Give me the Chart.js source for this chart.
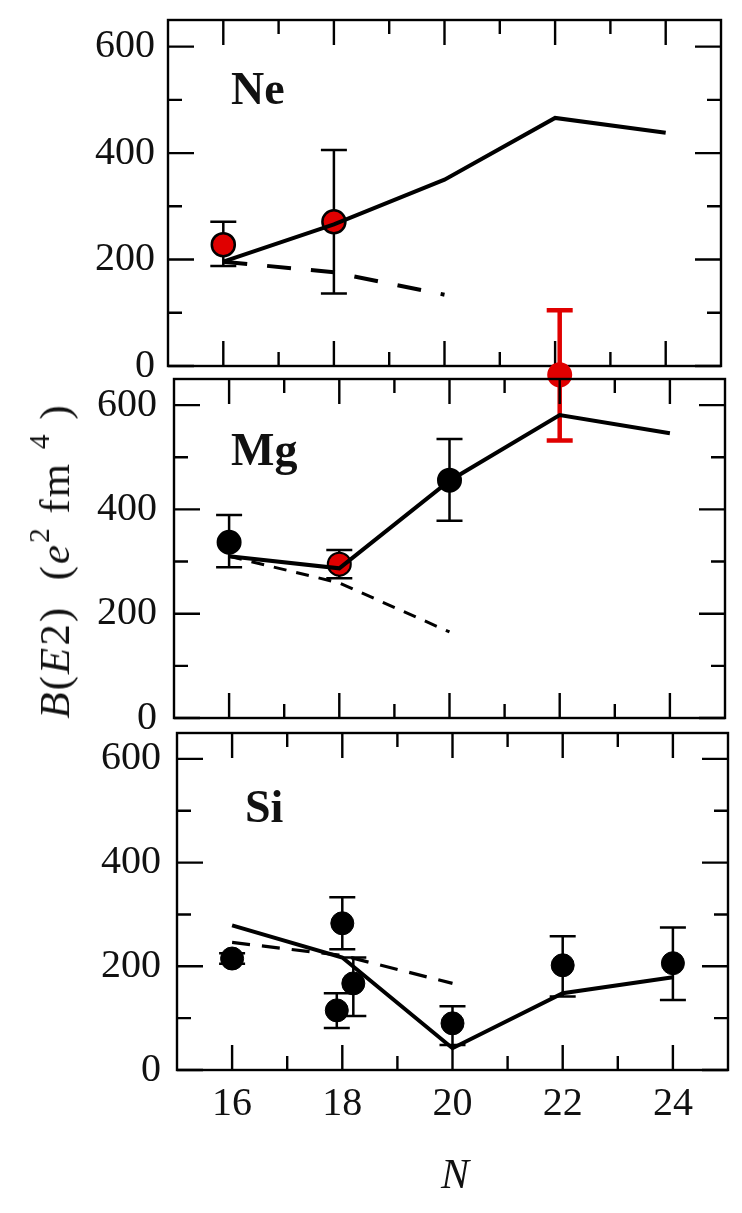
<!DOCTYPE html>
<html>
<head>
<meta charset="utf-8">
<script src="https://cdn.jsdelivr.net/npm/chart.js@4.4.1/dist/chart.umd.min.js"></script>
<style>
  body { margin: 0; background: #fff; width: 742px; height: 1213px; position: relative; overflow: hidden;
         font-family: "Liberation Serif", "DejaVu Serif", serif; color: #111; }
  canvas { position: absolute; left: 0; top: 0; }
  .el { position: absolute; font-weight: bold; font-size: 46px; line-height: 46px; z-index: 5; }
  #ytitle { position: absolute; left: 57px; top: 561px; font-size: 43px; line-height: 43px; white-space: nowrap;
            letter-spacing: 2px; transform: translate(-50%, -50%) rotate(-90deg); z-index: 5; }
  #ytitle .s { position: relative; top: -0.7em; font-size: 0.68em; }
  #xtitle { position: absolute; left: 455px; top: 1153px; font-size: 42px; line-height: 42px; font-style: italic;
            transform: translateX(-50%); z-index: 5; }
</style>
</head>
<body>
<canvas id="ne" width="742" height="1213"></canvas>
<canvas id="mg" width="742" height="1213"></canvas>
<canvas id="si" width="742" height="1213"></canvas>
<div class="el" style="left:231px; top:66px;">Ne</div>
<div class="el" style="left:231px; top:427px;">Mg</div>
<div class="el" style="left:245px; top:784px;">Si</div>
<div id="ytitle"><i>B</i>(<i>E</i>2)&nbsp;&nbsp;(<i>e</i><span class="s">2</span>&nbsp;fm&nbsp;<span class="s">4</span>&nbsp;)</div>
<div id="xtitle">N</div>
<script>
// neutron number of the calculated curves
const nCalc = [16, 18, 20, 22, 24];
const nDash = [16, 18, 20];

// Ne
const neSolid = [196, 266, 350, 466, 438];
const neDashed = [196, 176, 134];
const neExpN = [16, 18];
const neExp = [228, 271];
const neLo = [188, 136];
const neHi = [271, 406];
const neRed = [true, true];

// Mg
const mgSolid = [310, 287, 455, 581, 546];
const mgDashed = [310, 259, 165];
const mgExpN = [16, 18, 20, 22];
const mgExp = [337, 295, 456, 658];
const mgLo = [289, 268, 378, 532];
const mgHi = [389, 322, 535, 782];
const mgRed = [false, true, false, true];

// Si
const siSolid = [279, 217, 42, 148, 179];
const siDashed = [246, 221, 167];
const siExpN = [16, 17.9, 18, 18.2, 20, 22, 24];
const siExp = [215, 115, 283, 167, 90, 202, 206];
const siLo = [205, 81, 233, 104, 48, 142, 135];
const siHi = [225, 148, 333, 217, 123, 258, 275];
const siRed = [false, false, false, false, false, false, false];

const xTicks = [16, 18, 20, 22, 24];
const xMinor = [17, 19, 21, 23];
const yTicks = [0, 200, 400, 600];
const yMinor = [100, 300, 500];

const RED = '#e00000';
Chart.defaults.font.family = '"Liberation Serif", "DejaVu Serif", serif';
Chart.defaults.color = '#111';

// vertical error bars, drawn under the points
const errBars = {
  id: 'errBars',
  beforeDatasetsDraw(chart, args, o) {
    const { ctx, scales: { x, y } } = chart;
    ctx.save();
    o.xs.forEach((n, i) => {
      const px = x.getPixelForValue(n);
      const lo = y.getPixelForValue(o.lo[i]);
      const hi = y.getPixelForValue(o.hi[i]);
      ctx.strokeStyle = o.redBar[i] ? RED : '#000';
      ctx.lineWidth = o.redBar[i] ? 4.5 : 2.5;
      ctx.beginPath();
      ctx.moveTo(px, lo); ctx.lineTo(px, hi);
      ctx.moveTo(px - 13, lo); ctx.lineTo(px + 13, lo);
      ctx.moveTo(px - 13, hi); ctx.lineTo(px + 13, hi);
      ctx.stroke();
    });
    ctx.restore();
  }
};

// box frame with inward ticks on all four sides
const frame = {
  id: 'frame',
  afterDatasetsDraw(chart) {
    const { ctx, chartArea: a, scales: { x, y } } = chart;
    ctx.save();
    ctx.strokeStyle = '#000';
    ctx.lineWidth = 2.4;
    ctx.strokeRect(a.left, a.top, a.right - a.left, a.bottom - a.top);
    ctx.beginPath();
    const vt = (v, len) => {
      const px = x.getPixelForValue(v);
      ctx.moveTo(px, a.bottom); ctx.lineTo(px, a.bottom - len);
      ctx.moveTo(px, a.top); ctx.lineTo(px, a.top + len);
    };
    const ht = (v, len) => {
      const py = y.getPixelForValue(v);
      ctx.moveTo(a.left, py); ctx.lineTo(a.left + len, py);
      ctx.moveTo(a.right, py); ctx.lineTo(a.right - len, py);
    };
    xTicks.forEach(v => vt(v, 25));
    xMinor.forEach(v => vt(v, 14));
    yTicks.forEach(v => ht(v, 26));
    yMinor.forEach(v => ht(v, 14));
    ctx.stroke();
    ctx.restore();
  }
};

function makePanel(id, area, d, showX) {
  const pts = (xs, ys) => xs.map((n, i) => ({ x: n, y: ys[i] }));
  new Chart(document.getElementById(id), {
    type: 'line',
    data: {
      datasets: [
        { data: pts(nCalc, d.solid), borderColor: '#000', borderWidth: 4, pointRadius: 0, tension: 0 },
        { data: pts(nDash, d.dashed), borderColor: '#000', borderWidth: d.dashW, borderDash: d.dash, pointRadius: 0, tension: 0 },
        { data: pts(d.expN, d.exp), showLine: false, clip: false,
          pointRadius: 11.5, pointBorderWidth: d.ptBorder,
          pointBackgroundColor: d.red.map(r => r ? RED : '#000'),
          pointBorderColor: d.red.map((r, i) => d.redBar[i] ? RED : '#000') }
      ]
    },
    options: {
      responsive: false,
      animation: false,
      devicePixelRatio: 1,
      layout: { padding: { left: 0, top: area.top, right: 742 - area.right, bottom: showX ? 0 : 1213 - area.bottom } },
      plugins: {
        legend: { display: false },
        tooltip: { enabled: false },
        errBars: { xs: d.expN, lo: d.lo, hi: d.hi, redBar: d.redBar }
      },
      scales: {
        x: {
          type: 'linear', min: 15, max: 25, display: showX,
          grid: { display: false, drawTicks: false }, border: { display: false },
          ticks: { font: { size: 40 }, padding: 10 },
          afterBuildTicks: s => { s.ticks = xTicks.map(v => ({ value: v })); },
          afterFit: s => {
            if (!showX) return;
            s.height = 1213 - area.bottom; s.paddingLeft = 0; s.paddingRight = 0;
          }
        },
        y: {
          type: 'linear', min: 0, max: 650,
          grid: { display: false, drawTicks: false }, border: { display: false },
          ticks: { font: { size: 40 }, padding: area.left - area.labelRight },
          afterBuildTicks: s => { s.ticks = yTicks.map(v => ({ value: v })); },
          afterFit: s => { s.width = area.left; s.paddingTop = 0; s.paddingBottom = 0; }
        }
      }
    },
    plugins: [errBars, frame]
  });
}

makePanel('ne', { left: 168, right: 721, top: 20, bottom: 366, labelRight: 155 },
  { solid: neSolid, dashed: neDashed, dash: [24, 20], dashW: 4, expN: neExpN, exp: neExp, lo: neLo, hi: neHi,
    red: neRed, redBar: [false, false], ptBorder: 2.5 }, false);

makePanel('mg', { left: 174, right: 725, top: 379, bottom: 718, labelRight: 157 },
  { solid: mgSolid, dashed: mgDashed, dash: [13, 10], dashW: 3, expN: mgExpN, exp: mgExp, lo: mgLo, hi: mgHi,
    red: mgRed, redBar: [false, false, false, true], ptBorder: 2 }, false);

makePanel('si', { left: 177, right: 728, top: 733, bottom: 1070, labelRight: 161 },
  { solid: siSolid, dashed: siDashed, dash: [18, 12], dashW: 3.2, expN: siExpN, exp: siExp, lo: siLo, hi: siHi,
    red: siRed, redBar: siRed, ptBorder: 1 }, true);
</script>
</body>
</html>
